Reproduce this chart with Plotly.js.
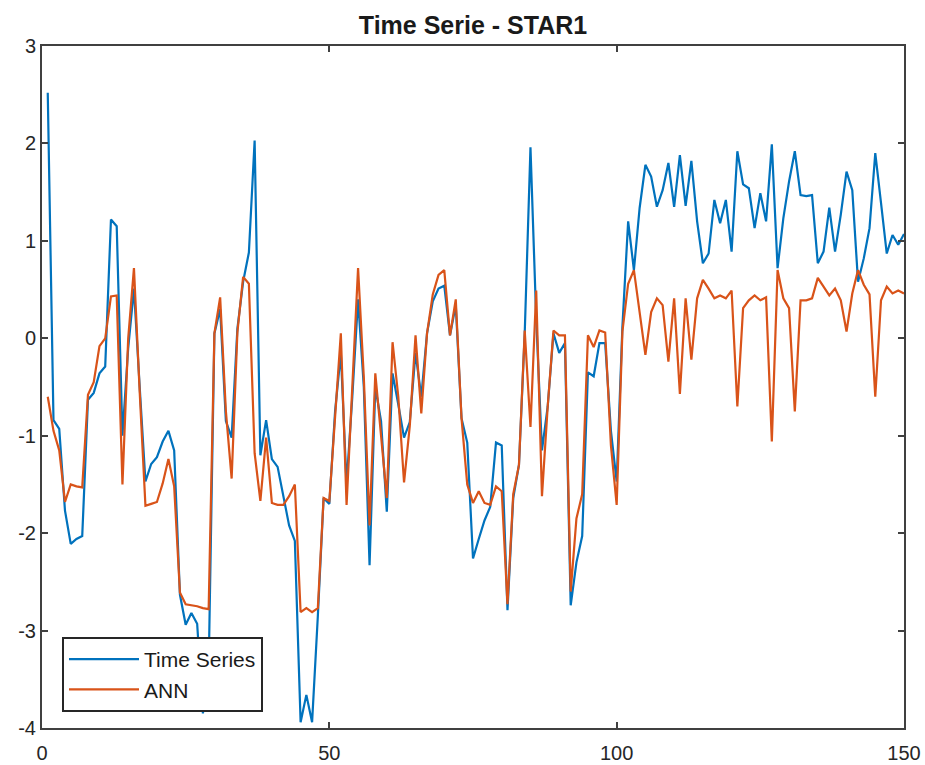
<!DOCTYPE html>
<html>
<head>
<meta charset="utf-8">
<script src="https://cdn.plot.ly/plotly-3.0.1.min.js"></script>
<style>
  html, body { margin: 0; padding: 0; background: #ffffff; }
  #chart { width: 925px; height: 765px; }
</style>
</head>
<body>
<div id="chart"></div>
<script>
// Sample index 1..150
const steps = Array.from({length: 150}, (_, k) => k + 1);

// Observed time series (STAR1)
const timeSeries = [
  2.52, -0.84, -0.93, -1.77, -2.11, -2.06, -2.03, -0.63, -0.56, -0.36,
  -0.29, 1.22, 1.15, -1.00, -0.10, 0.51, -0.50, -1.47, -1.29, -1.22,
  -1.06, -0.95, -1.15, -2.63, -2.94, -2.82, -2.93, -3.85, -3.40, 0.05,
  0.30, -0.85, -1.02, 0.10, 0.58, 0.88, 2.03, -1.20, -0.84, -1.24,
  -1.32, -1.62, -1.92, -2.08, -3.94, -3.66, -3.94, -2.85, -1.64, -1.70,
  -0.75, -0.15, -1.50, -0.60, 0.40, -0.50, -2.33, -0.50, -0.85, -1.78,
  -0.36, -0.68, -1.02, -0.86, -0.15, -0.60, 0.05, 0.38, 0.51, 0.54,
  0.03, 0.34, -0.82, -1.07, -2.26, -2.06, -1.87, -1.73, -1.07, -1.10,
  -2.79, -1.64, -1.30, 0.05, 1.96, 0.20, -1.15, -0.70, 0.05, -0.15,
  -0.05, -2.74, -2.30, -2.03, -0.35, -0.39, -0.05, -0.05, -0.95, -1.47,
  0.12, 1.20, 0.70, 1.34, 1.78, 1.66, 1.35, 1.52, 1.80, 1.35,
  1.88, 1.36, 1.82, 1.20, 0.77, 0.87, 1.42, 1.18, 1.42, 0.89,
  1.92, 1.58, 1.54, 1.13, 1.49, 1.20, 1.99, 0.72, 1.23, 1.61,
  1.92, 1.47, 1.46, 1.47, 0.77, 0.89, 1.34, 0.89, 1.27, 1.71,
  1.52, 0.58, 0.82, 1.13, 1.90, 1.39, 0.87, 1.06, 0.96, 1.07
];

// Neural network output
const annOutput = [
  -0.60, -0.95, -1.15, -1.68, -1.50, -1.52, -1.53, -0.58, -0.45, -0.08,
  0.00, 0.43, 0.44, -1.50, 0.00, 0.72, -0.55, -1.72, -1.70, -1.68,
  -1.49, -1.24, -1.52, -2.61, -2.73, -2.74, -2.75, -2.77, -2.78, 0.05,
  0.42, -0.75, -1.44, 0.06, 0.63, 0.56, -1.18, -1.67, -1.02, -1.69,
  -1.71, -1.71, -1.62, -1.50, -2.81, -2.77, -2.81, -2.77, -1.64, -1.67,
  -0.80, 0.05, -1.71, -0.50, 0.72, -0.40, -1.92, -0.36, -1.00, -1.64,
  -0.04, -0.60, -1.48, -0.90, 0.03, -0.77, 0.05, 0.45, 0.65, 0.70,
  0.03, 0.40, -0.82, -1.50, -1.69, -1.57, -1.69, -1.71, -1.52, -1.57,
  -2.73, -1.60, -1.30, 0.08, -0.91, 0.49, -1.62, -0.70, 0.08, 0.03,
  0.03, -2.60, -1.85, -1.60, 0.03, -0.09, 0.08, 0.06, -1.10, -1.71,
  0.07, 0.56, 0.70, 0.24, -0.17, 0.27, 0.41, 0.34, -0.24, 0.41,
  -0.57, 0.41, -0.22, 0.41, 0.60, 0.51, 0.41, 0.44, 0.41, 0.49,
  -0.70, 0.31, 0.39, 0.44, 0.39, 0.42, -1.06, 0.70, 0.41, 0.31,
  -0.75, 0.39, 0.39, 0.41, 0.62, 0.53, 0.44, 0.51, 0.39, 0.07,
  0.46, 0.70, 0.55, 0.45, -0.60, 0.39, 0.53, 0.46, 0.49, 0.46
];

const xTicks = [0, 50, 100, 150];
const yTicks = [-4, -3, -2, -1, 0, 1, 2, 3];

const fontFamily = '"Liberation Sans", Arial, Helvetica, sans-serif';
const axisColor = '#404040';

const traces = [
  {
    x: steps, y: timeSeries, type: 'scatter', mode: 'lines', name: 'Time Series',
    line: {color: '#0072BD', width: 2.2}
  },
  {
    x: steps, y: annOutput, type: 'scatter', mode: 'lines', name: 'ANN',
    line: {color: '#D95319', width: 2.2}
  }
];

const axisCommon = {
  showline: true, mirror: 'ticks', linecolor: axisColor, linewidth: 2,
  ticks: 'inside', ticklen: 6, tickwidth: 2, tickcolor: axisColor,
  showgrid: false, zeroline: false,
  tickfont: {family: fontFamily, size: 20, color: '#262626'}
};

const layout = {
  width: 925, height: 765,
  margin: {l: 42, r: 21, t: 46, b: 37, pad: 0},
  paper_bgcolor: '#ffffff', plot_bgcolor: '#ffffff',
  title: {
    text: 'Time Serie - STAR1',
    font: {family: fontFamily, size: 25, color: '#1a1a1a', weight: 'bold'},
    xref: 'paper', x: 0.5, xanchor: 'center',
    yref: 'container', y: 1 - 25 / 765, yanchor: 'middle'
  },
  xaxis: Object.assign({}, axisCommon, {
    range: [0, 150], tickmode: 'array', tickvals: xTicks, ticktext: xTicks.map(String),
    ticklabelstandoff: 6
  }),
  yaxis: Object.assign({}, axisCommon, {
    range: [-4, 3], tickmode: 'array', tickvals: yTicks, ticktext: yTicks.map(String)
  }),
  showlegend: true,
  legend: {
    x: 0.0232, y: 0.0235, xanchor: 'left', yanchor: 'bottom',
    bgcolor: '#ffffff', bordercolor: '#262626', borderwidth: 2,
    font: {family: fontFamily, size: 21, color: '#1a1a1a'},
    itemwidth: 70, tracegroupgap: 0
  }
};

Plotly.newPlot('chart', traces, layout, {displayModeBar: false, staticPlot: true});
</script>
</body>
</html>
